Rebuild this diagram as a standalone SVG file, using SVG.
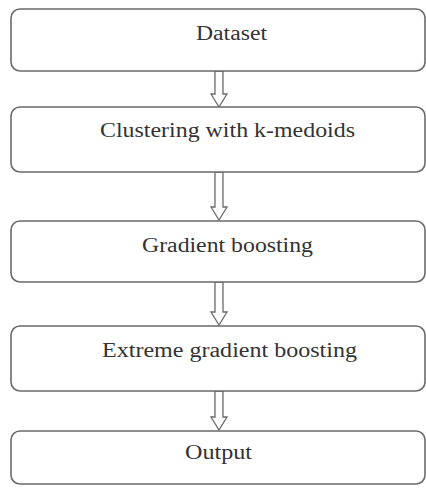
<svg xmlns="http://www.w3.org/2000/svg" width="426" height="488" viewBox="0 0 426 488">
<style>
.box{fill:#fff;stroke:#6a6a6a;stroke-width:1.6}
.lbl{font-family:"Liberation Serif","Times New Roman",serif;font-size:20px;fill:#333}
.arr{fill:#fff;stroke:#6a6a6a;stroke-width:1.3;stroke-linejoin:miter}
</style>
<rect width="426" height="488" fill="#fff"/>
<g id="connectors">
<polygon class="arr" points="215,71 223,71 223,94 227,94 219,107 211,94 215,94"/>
<polygon class="arr" points="215,172 223,172 223,207 227,207 219,220 211,207 215,207"/>
<polygon class="arr" points="215,282 223,282 223,312 227,312 219,325 211,312 215,312"/>
<polygon class="arr" points="215,391 223,391 223,417 227,417 219,430 211,417 215,417"/>
</g>
<g id="n1"><rect class="box" x="11" y="9" width="414" height="62" rx="9"/><text class="lbl" x="196" y="40" textLength="71" lengthAdjust="spacingAndGlyphs">Dataset</text></g>
<g id="n2"><rect class="box" x="11" y="107" width="414" height="65" rx="9"/><text class="lbl" x="100" y="137" textLength="255" lengthAdjust="spacingAndGlyphs">Clustering with k-medoids</text></g>
<g id="n3"><rect class="box" x="11" y="221" width="414" height="61" rx="9"/><text class="lbl" x="142" y="252" textLength="171" lengthAdjust="spacingAndGlyphs">Gradient boosting</text></g>
<g id="n4"><rect class="box" x="11" y="326" width="414" height="65" rx="9"/><text class="lbl" x="102" y="357" textLength="255" lengthAdjust="spacingAndGlyphs">Extreme gradient boosting</text></g>
<g id="n5"><rect class="box" x="11" y="431" width="414" height="53" rx="9"/><text class="lbl" x="185" y="459" textLength="67" lengthAdjust="spacingAndGlyphs">Output</text></g>
</svg>
